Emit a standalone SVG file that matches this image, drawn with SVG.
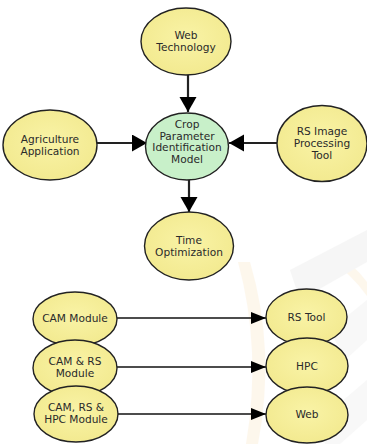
<svg xmlns="http://www.w3.org/2000/svg" width="367" height="444" viewBox="0 0 367 444">
  <defs>
    <marker id="arrowBig" markerUnits="userSpaceOnUse" markerWidth="16" markerHeight="18" refX="15" refY="8.5" orient="auto">
      <path d="M0,0 L15,8.5 L0,17 Z" fill="#000"/>
    </marker>
    <marker id="arrowSmall" markerUnits="userSpaceOnUse" markerWidth="16" markerHeight="14" refX="15" refY="6" orient="auto">
      <path d="M0,0 L15,6 L0,12 Z" fill="#000"/>
    </marker>
    <radialGradient id="yel" cx="50%" cy="45%" r="60%">
      <stop offset="0" stop-color="#F9F3A6"/>
      <stop offset="1" stop-color="#F2E98E"/>
    </radialGradient>
  </defs>
  <style>
    .y { fill: url(#yel); stroke: #222; stroke-width: 1.4; }
    .g { fill: #C8F0C9; stroke: #222; stroke-width: 1.4; }
    text { font-family: "DejaVu Sans", "Liberation Sans", sans-serif; font-size: 10.6px; fill: #2a2a2a; text-anchor: middle; }
    .top { stroke: #222; stroke-width: 2.2; fill: none; marker-end: url(#arrowBig); }
    .bot { stroke: #111; stroke-width: 1.5; fill: none; marker-end: url(#arrowSmall); }
  </style>
  <rect width="367" height="444" fill="#fff"/>
  <g id="watermark" opacity="0.08">
    <path d="M238,262 Q262,350 246,444 L258,444 Q276,350 250,262 Z" fill="#F0A020"/>
    <path d="M330,250 Q352,262 367,282 L367,296 Q350,272 326,258 Z" fill="#F0A020"/>
    <path d="M290,270 L367,230 L367,262 L300,300 Z" fill="#999"/>
    <path d="M330,330 L367,300 L367,340 L345,360 Z" fill="#aaa"/>
    <path d="M320,420 L367,380 L367,420 L340,444 L325,444 Z" fill="#aaa"/>
  </g>
  <g id="connectors">
    <line class="top" x1="188" y1="75" x2="188" y2="112"/>
    <line class="top" x1="97" y1="143" x2="147" y2="143"/>
    <line class="top" x1="277" y1="143" x2="229" y2="143"/>
    <line class="top" x1="189" y1="180" x2="189" y2="212"/>
    <line class="bot" x1="117" y1="318" x2="266" y2="318"/>
    <line class="bot" x1="117" y1="367" x2="266" y2="367"/>
    <line class="bot" x1="117" y1="414" x2="266" y2="414"/>
  </g>
  <g id="web-technology">
    <ellipse class="y" cx="186" cy="41.5" rx="45" ry="33.5"/>
    <text x="186" y="39">Web</text>
    <text x="186" y="51">Technology</text>
  </g>
  <g id="crop-model">
    <ellipse class="g" cx="187" cy="146.5" rx="41.5" ry="33.5"/>
    <text x="187" y="128">Crop</text>
    <text x="187" y="139.5">Parameter</text>
    <text x="187" y="151">Identification</text>
    <text x="187" y="163">Model</text>
  </g>
  <g id="agriculture-application">
    <ellipse class="y" cx="50" cy="145" rx="47" ry="35"/>
    <text x="50" y="143">Agriculture</text>
    <text x="50" y="155">Application</text>
  </g>
  <g id="rs-image-processing-tool">
    <ellipse class="y" cx="322" cy="143.5" rx="45" ry="38"/>
    <text x="322" y="135">RS Image</text>
    <text x="322" y="147">Processing</text>
    <text x="322" y="159">Tool</text>
  </g>
  <g id="time-optimization">
    <ellipse class="y" cx="189" cy="246" rx="44.5" ry="34"/>
    <text x="189" y="244">Time</text>
    <text x="189" y="256">Optimization</text>
  </g>
  <g id="cam-module">
    <ellipse class="y" cx="75" cy="319" rx="42" ry="27"/>
    <text x="75" y="322">CAM Module</text>
  </g>
  <g id="cam-rs-module">
    <ellipse class="y" cx="75" cy="368" rx="42" ry="28"/>
    <text x="75" y="365">CAM &amp; RS</text>
    <text x="75" y="377">Module</text>
  </g>
  <g id="cam-rs-hpc-module">
    <ellipse class="y" cx="76" cy="414" rx="42" ry="28"/>
    <text x="76" y="411">CAM, RS &amp;</text>
    <text x="76" y="423">HPC Module</text>
  </g>
  <g id="rs-tool">
    <ellipse class="y" cx="306.5" cy="317" rx="40.5" ry="28"/>
    <text x="306.5" y="321">RS Tool</text>
  </g>
  <g id="hpc">
    <ellipse class="y" cx="307" cy="366" rx="41" ry="28"/>
    <text x="307" y="370">HPC</text>
  </g>
  <g id="web">
    <ellipse class="y" cx="307" cy="415" rx="41" ry="28"/>
    <text x="307" y="418">Web</text>
  </g>
</svg>
